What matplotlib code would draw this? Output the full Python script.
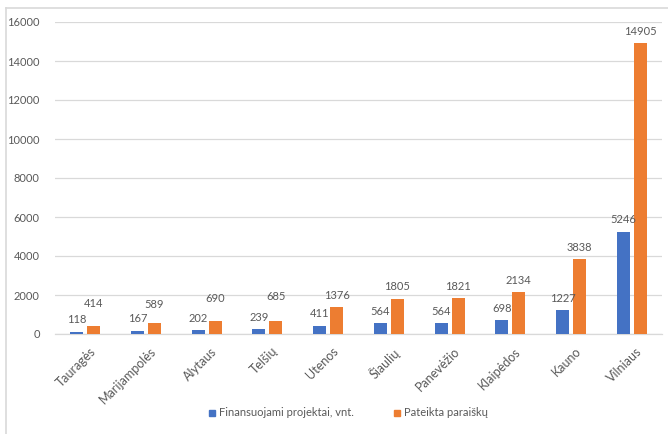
import matplotlib
matplotlib.use("Agg")
import matplotlib.pyplot as plt
import matplotlib.transforms as mtransforms
import numpy as np
from matplotlib.lines import Line2D

categories = ["Tauragės", "Marijampolės", "Alytaus", "Telšių", "Utenos",
              "Šiaulių", "Panevėžio", "Klaipėdos", "Kauno", "Vilniaus"]
funded = [118, 167, 202, 239, 411, 564, 564, 698, 1227, 5246]
submitted = [414, 589, 690, 685, 1376, 1805, 1821, 2134, 3838, 14905]
series_names = ["Finansuojami projektai, vnt.", "Pateikta paraiškų"]
yticks = [0, 2000, 4000, 6000, 8000, 10000, 12000, 14000, 16000]

# extra vertical lift (px) for some orange labels, as placed in the original
orange_lift_px = [10, 6.5, 10.5, 12, 0, 0, 0, 0, 0, 0]

BLUE = "#4472C4"
ORANGE = "#ED7D31"
TXT = "#595959"
GRID = "#D9D9D9"

plt.rcParams['font.family'] = ['Lato', 'DejaVu Sans']
DPI = 100
W, H = 668, 434
fig = plt.figure(figsize=(W / DPI, H / DPI), dpi=DPI)
ax = fig.add_axes([55 / W, 1 - 334 / H, (662 - 55) / W, (334 - 22) / H])

x = np.arange(len(categories))
bw = 0.215
off = 0.14
ax.bar(x - off, funded, bw, color=BLUE, zorder=3)
ax.bar(x + off, submitted, bw, color=ORANGE, zorder=3)

px2pt = 72 / DPI
fs = 8
for i in range(len(categories)):
    ax.annotate(str(funded[i]), (x[i] - off, funded[i]), xytext=(0, 12 * px2pt),
                textcoords="offset points", ha="center", va="center",
                fontsize=fs, color=TXT, zorder=4)
    ax.annotate(str(submitted[i]), (x[i] + off, submitted[i]),
                xytext=(0, (12 + orange_lift_px[i]) * px2pt),
                textcoords="offset points", ha="center", va="center",
                fontsize=fs, color=TXT, zorder=4)

ax.set_xlim(-0.5, len(categories) - 0.5)
ax.set_ylim(0, 16000)
ax.set_yticks(yticks)
ax.set_yticklabels([str(v) for v in yticks], fontsize=fs, color=TXT)
ax.yaxis.grid(True, color=GRID, linewidth=0.9, zorder=0)
ax.set_axisbelow(True)
ax.tick_params(axis="y", length=0, pad=11)
ax.tick_params(axis="x", length=0, pad=8)
ax.set_xticks(x)
ax.set_xticklabels(categories, rotation=45, ha="right", va="top",
                   rotation_mode="anchor", fontsize=9, color=TXT)
shift = mtransforms.ScaledTranslation(4 / DPI, 0, fig.dpi_scale_trans)
for lab in ax.get_xticklabels():
    lab.set_transform(lab.get_transform() + shift)
for s in ["top", "right", "left"]:
    ax.spines[s].set_visible(False)
ax.spines["bottom"].set_color(GRID)
ax.spines["bottom"].set_linewidth(0.9)

handles = [Line2D([0], [0], marker="s", linestyle="none", markersize=5,
                  markerfacecolor=BLUE, markeredgecolor=BLUE),
           Line2D([0], [0], marker="s", linestyle="none", markersize=5,
                  markerfacecolor=ORANGE, markeredgecolor=ORANGE)]
leg = fig.legend(handles, series_names, loc="center", ncol=2,
                 bbox_to_anchor=(347 / W, 1 - 413 / H), frameon=False,
                 fontsize=fs, handletextpad=0.1, columnspacing=3.4,
                 handlelength=1.0)
for t in leg.get_texts():
    t.set_color(TXT)

# chart border (left and top visible in the crop)
fig.add_artist(Line2D([5.5 / W, 5.5 / W], [0, 1 - 7.5 / H], color=GRID,
                      linewidth=1.2, transform=fig.transFigure))
fig.add_artist(Line2D([5.5 / W, 1], [1 - 7.5 / H, 1 - 7.5 / H], color=GRID,
                      linewidth=1.2, transform=fig.transFigure))

fig.savefig("out.png", dpi=DPI, facecolor="white")
